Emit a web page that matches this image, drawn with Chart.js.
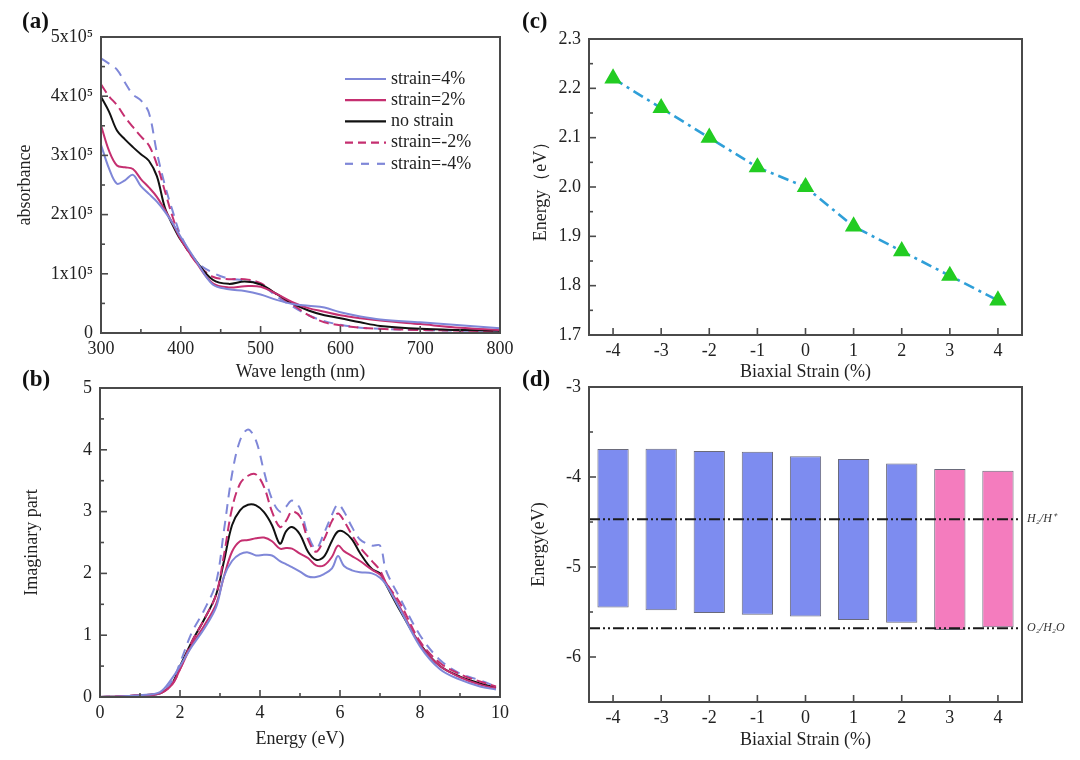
<!DOCTYPE html>
<html>
<head>
<meta charset="utf-8">
<script src="https://cdn.jsdelivr.net/npm/chart.js@4.4.1/dist/chart.umd.min.js"></script>
<style>
  html, body { margin: 0; padding: 0; background: #ffffff; }
  body { width: 1080px; height: 760px; position: relative; overflow: hidden; }
  canvas { position: absolute; }
  .plab { position: absolute; font-family: "Liberation Serif", serif; font-weight: bold; font-size: 23px; color: #111; }
</style>
</head>
<body>
<canvas id="ca" width="540" height="390" style="left:0;top:0"></canvas>
<canvas id="cb" width="540" height="400" style="left:0;top:360px"></canvas>
<canvas id="cc" width="560" height="390" style="left:520px;top:0"></canvas>
<canvas id="cd" width="560" height="400" style="left:520px;top:360px"></canvas>
<div class="plab" style="left:22px;top:8px">(a)</div>
<div class="plab" style="left:22px;top:366px">(b)</div>
<div class="plab" style="left:522px;top:8px">(c)</div>
<div class="plab" style="left:522px;top:366px">(d)</div>
<script>
// ---------- Panel (a): absorbance vs wavelength (values in units of 1e5) ----------
const aWavelength = [300,310,320,330,340,350,360,370,380,390,400,420,440,460,480,500,520,540,560,580,600,625,650,700,750,800];
const aStrain4  = [3.18,2.78,2.52,2.58,2.67,2.48,2.35,2.22,2.05,1.85,1.62,1.20,0.82,0.74,0.71,0.65,0.56,0.49,0.46,0.43,0.35,0.28,0.23,0.18,0.13,0.08];
const aStrain2  = [3.51,3.08,2.83,2.80,2.77,2.60,2.46,2.30,2.08,1.85,1.58,1.18,0.84,0.77,0.79,0.78,0.66,0.52,0.42,0.36,0.30,0.25,0.21,0.15,0.09,0.05];
const aNoStrain = [3.99,3.74,3.42,3.27,3.14,3.02,2.91,2.65,2.12,1.82,1.57,1.20,0.90,0.83,0.87,0.82,0.66,0.50,0.38,0.30,0.25,0.18,0.12,0.07,0.05,0.04];
const aStrainM2 = [4.20,4.00,3.85,3.65,3.48,3.32,3.17,2.85,2.40,1.95,1.60,1.18,0.95,0.91,0.91,0.84,0.65,0.48,0.30,0.18,0.13,0.09,0.07,0.05,0.04,0.03];
const aStrainM4 = [4.64,4.55,4.45,4.23,4.03,3.93,3.72,3.05,2.50,2.05,1.65,1.20,1.02,0.92,0.89,0.82,0.62,0.45,0.30,0.20,0.14,0.09,0.07,0.05,0.04,0.04];
const aXTicks = [300,400,500,600,700,800];
const aXTickLabels = ['300','400','500','600','700','800'];
const aYTicks = [0,1,2,3,4,5];
const aYTickLabels = ['0','1x10\u2075','2x10\u2075','3x10\u2075','4x10\u2075','5x10\u2075'];

// ---------- Panel (b): imaginary part vs energy ----------
const bEnergy    = [0,0.5,1,1.5,1.8,2.0,2.3,2.6,2.9,3.1,3.3,3.5,3.7,3.9,4.1,4.3,4.5,4.65,4.8,5.0,5.2,5.4,5.6,5.8,5.95,6.1,6.3,6.5,6.8,7.0,7.15,7.5,8.0,8.5,9.0,9.5,9.9];
const bStrain4   = [0,0.01,0.03,0.08,0.30,0.50,0.82,1.10,1.45,1.95,2.20,2.31,2.34,2.29,2.30,2.29,2.20,2.15,2.10,2.03,1.95,1.94,1.99,2.08,2.28,2.12,2.05,2.02,2.00,1.93,1.82,1.42,0.82,0.45,0.28,0.17,0.12];
const bStrain2   = [0,0.01,0.03,0.06,0.20,0.45,0.85,1.15,1.50,1.95,2.35,2.52,2.54,2.57,2.58,2.52,2.40,2.41,2.40,2.32,2.25,2.13,2.13,2.27,2.45,2.36,2.28,2.20,2.06,1.98,1.85,1.45,0.85,0.50,0.32,0.20,0.14];
const bNoStrain  = [0,0.01,0.03,0.06,0.22,0.50,0.90,1.25,1.65,2.20,2.78,3.02,3.11,3.10,2.99,2.78,2.48,2.68,2.75,2.63,2.35,2.22,2.27,2.53,2.68,2.67,2.55,2.33,2.07,2.00,1.82,1.40,0.86,0.50,0.33,0.22,0.15];
const bStrainM2  = [0,0.01,0.03,0.06,0.20,0.45,0.90,1.25,1.65,2.30,3.05,3.45,3.58,3.60,3.40,3.00,2.75,2.85,3.00,2.92,2.55,2.35,2.55,2.85,2.97,2.85,2.62,2.42,2.20,2.05,1.85,1.52,0.90,0.55,0.37,0.25,0.17];
const bStrainM4  = [0,0.01,0.03,0.06,0.25,0.55,1.05,1.40,1.85,2.70,3.60,4.15,4.33,4.15,3.65,3.20,3.00,3.08,3.18,3.05,2.62,2.40,2.65,2.95,3.12,3.00,2.75,2.55,2.45,2.45,2.05,1.60,1.00,0.60,0.38,0.27,0.17];
const bXTicks = [0,2,4,6,8,10];
const bXTickLabels = ['0','2','4','6','8','10'];
const bYTicks = [0,1,2,3,4,5];
const bYTickLabels = ['0','1','2','3','4','5'];

// ---------- Panel (c): band gap vs biaxial strain ----------
const strainCategories = ['-4','-3','-2','-1','0','1','2','3','4'];
const cBandGap = [2.22,2.16,2.10,2.04,2.00,1.92,1.87,1.82,1.77];
const cYTicks = [1.7,1.8,1.9,2.0,2.1,2.2,2.3];
const cYTickLabels = ['1.7','1.8','1.9','2.0','2.1','2.2','2.3'];

// ---------- Panel (d): band edges vs biaxial strain ----------
const dCBM = [-3.69,-3.685,-3.71,-3.72,-3.77,-3.80,-3.85,-3.91,-3.93];
const dVBM = [-5.45,-5.48,-5.51,-5.53,-5.55,-5.59,-5.62,-5.70,-5.67];
const dYTicks = [-6,-5,-4,-3];
const dYTickLabels = ['-6','-5','-4','-3'];
const refLevels = [-4.47, -5.68];
const refLabels = ['H\u2082/H\u207A', 'O\u2082/H\u2082O'];

// ---------- styling ----------
const FONT = "'Liberation Serif', 'Times New Roman', serif";
const TXT = '#222';
const BLUE = '#7f87d8';
const MAG = '#c52f70';

const frameTicks = {
  id: 'frameTicks',
  afterDraw(chart, args, o) {
    const ctx = chart.ctx, a = chart.chartArea;
    const xs = chart.scales.x, ys = chart.scales.y;
    ctx.save();
    ctx.strokeStyle = '#4a4a4a';
    ctx.lineWidth = 1.6;
    const xp = xs.ticks.map((t, i) => xs.getPixelForTick(i));
    const yp = ys.ticks.map((t, i) => ys.getPixelForTick(i));
    const MAJ = 7, MIN = 4;
    const tx = (p, l) => { ctx.beginPath(); ctx.moveTo(p, a.bottom); ctx.lineTo(p, a.bottom - l); ctx.stroke(); };
    const ty = (p, l) => { ctx.beginPath(); ctx.moveTo(a.left, p); ctx.lineTo(a.left + l, p); ctx.stroke(); };
    xp.forEach(p => tx(p, MAJ));
    yp.forEach(p => ty(p, MAJ));
    if (o.minorX) for (let i = 0; i < xp.length - 1; i++) tx((xp[i] + xp[i + 1]) / 2, MIN);
    if (o.minorY) for (let i = 0; i < yp.length - 1; i++) ty((yp[i] + yp[i + 1]) / 2, MIN);
    ctx.lineWidth = 2;
    ctx.strokeRect(a.left, a.top, a.right - a.left, a.bottom - a.top);
    ctx.restore();
  }
};

const lineLegend = {
  id: 'lineLegend',
  afterDraw(chart, args, o) {
    if (!o.show) return;
    const ctx = chart.ctx;
    ctx.save();
    ctx.font = '18px ' + FONT;
    ctx.textBaseline = 'middle';
    ctx.fillStyle = TXT;
    chart.data.datasets.forEach((ds, i) => {
      const y = o.y0 + i * o.dy;
      ctx.strokeStyle = ds.borderColor;
      ctx.lineWidth = 2.2;
      ctx.setLineDash(ds.legendDash || []);
      ctx.beginPath(); ctx.moveTo(o.x0, y); ctx.lineTo(o.x1, y); ctx.stroke();
      ctx.setLineDash([]);
      ctx.fillText(ds.label, o.tx, y);
    });
    ctx.restore();
  }
};

const refLines = {
  id: 'refLines',
  afterDatasetsDraw(chart, args, o) {
    if (!o.levels) return;
    const ctx = chart.ctx, a = chart.chartArea, ys = chart.scales.y;
    ctx.save();
    ctx.strokeStyle = '#1a1a1a';
    ctx.lineWidth = 2;
    ctx.setLineDash([11, 3, 2, 3, 2, 3]);
    ctx.font = 'italic 12px ' + FONT;
    ctx.fillStyle = '#333';
    ctx.textBaseline = 'middle';
    o.levels.forEach((v, i) => {
      const y = ys.getPixelForValue(v);
      ctx.beginPath(); ctx.moveTo(a.left, y); ctx.lineTo(a.right, y); ctx.stroke();
      ctx.fillText(o.labels[i], a.right + 5, y);
    });
    ctx.restore();
  }
};

Chart.register(frameTicks, lineLegend, refLines);

function linAxis(min, max, ticks, labels, fitSize, horiz, title, tpad) {
  return {
    type: 'linear', min: min, max: max,
    afterBuildTicks: s => { s.ticks = ticks.map(v => ({ value: v })); },
    afterFit: s => { if (horiz) s.height = fitSize; else s.width = fitSize; },
    grid: { display: false, drawTicks: false },
    border: { display: false },
    ticks: { autoSkip: false, maxRotation: 0, padding: horiz ? 5 : 8, color: TXT,
             font: { family: FONT, size: 18 }, callback: (v, i) => labels[i] },
    title: { display: true, text: title, color: TXT, font: { family: FONT, size: 18 }, padding: tpad }
  };
}
function catAxis(fitSize, title, tpad, fs) {
  return {
    type: 'category', offset: true,
    afterFit: s => { s.height = fitSize; },
    grid: { display: false, drawTicks: false },
    border: { display: false },
    ticks: { autoSkip: false, maxRotation: 0, padding: 5, color: TXT, font: { family: FONT, size: 18 } },
    title: { display: true, text: title, color: TXT, font: { family: FONT, size: fs }, padding: tpad }
  };
}
function pts(xs, ys) { return xs.map((x, i) => ({ x: x, y: ys[i] })); }
function curve(label, xs, ys, color, dash, legendDash) {
  return { label: label, data: pts(xs, ys), borderColor: color, backgroundColor: color,
           borderWidth: 2, borderDash: dash, legendDash: legendDash, pointRadius: 0, tension: 0.35, fill: false };
}
const baseOpts = { responsive: false, animation: false, devicePixelRatio: 1,
                   plugins: { legend: { display: false }, tooltip: { enabled: false } } };

// (a)
new Chart(document.getElementById('ca'), {
  type: 'line',
  data: { datasets: [
    curve('strain=4%', aWavelength, aStrain4, BLUE, [], []),
    curve('strain=2%', aWavelength, aStrain2, MAG, [], []),
    curve('no strain', aWavelength, aNoStrain, '#111111', [], []),
    curve('strain=-2%', aWavelength, aStrainM2, MAG, [10, 5], [8, 5]),
    curve('strain=-4%', aWavelength, aStrainM4, BLUE, [10, 7], [8, 8])
  ]},
  options: Object.assign({}, baseOpts, {
    layout: { padding: { top: 37, right: 40, left: 0, bottom: 0 } },
    scales: {
      x: linAxis(300, 800, aXTicks, aXTickLabels, 57, true, 'Wave length (nm)', { top: 0, bottom: 7 }),
      y: linAxis(0, 5, aYTicks, aYTickLabels, 101, false, 'absorbance', { top: 14, bottom: 0 })
    },
    plugins: Object.assign({}, baseOpts.plugins, {
      frameTicks: { minorX: true, minorY: true },
      lineLegend: { show: true, x0: 345, x1: 386, tx: 391, y0: 79, dy: 21.2 }
    })
  })
});

// (b)
new Chart(document.getElementById('cb'), {
  type: 'line',
  data: { datasets: [
    curve('strain=4%', bEnergy, bStrain4, BLUE, [], []),
    curve('strain=2%', bEnergy, bStrain2, MAG, [], []),
    curve('strain=-2%', bEnergy, bStrainM2, MAG, [10, 5], []),
    curve('strain=-4%', bEnergy, bStrainM4, BLUE, [10, 7], []),
    curve('no strain', bEnergy, bNoStrain, '#111111', [], [])
  ]},
  options: Object.assign({}, baseOpts, {
    layout: { padding: { top: 28, right: 40, left: 0, bottom: 0 } },
    scales: {
      x: linAxis(0, 10, bXTicks, bXTickLabels, 63, true, 'Energy (eV)', { top: 0, bottom: 10 }),
      y: linAxis(0, 5, bYTicks, bYTickLabels, 100, false, 'Imaginary part', { top: 21, bottom: 0 })
    },
    plugins: Object.assign({}, baseOpts.plugins, { frameTicks: { minorX: true, minorY: true } })
  })
});

// (c)
new Chart(document.getElementById('cc'), {
  type: 'line',
  data: { labels: strainCategories, datasets: [{
    label: 'Band gap', data: cBandGap,
    borderColor: '#2f9fd8', borderWidth: 2.6, borderDash: [11, 5, 3, 5],
    pointStyle: 'triangle', pointRadius: 7.5, pointBackgroundColor: '#22cc22', pointBorderColor: '#22cc22',
    tension: 0, fill: false
  }]},
  options: Object.assign({}, baseOpts, {
    layout: { padding: { top: 39, right: 58, left: 0, bottom: 0 } },
    scales: {
      x: catAxis(55, 'Biaxial Strain (%)', { top: 0, bottom: 7 }, 18),
      y: linAxis(1.7, 2.3, cYTicks, cYTickLabels, 69, false, 'Energy\uFF08eV\uFF09', { top: 10, bottom: 0 })
    },
    plugins: Object.assign({}, baseOpts.plugins, { frameTicks: { minorX: false, minorY: true } })
  })
});

// (d)
new Chart(document.getElementById('cd'), {
  type: 'bar',
  data: { labels: strainCategories, datasets: [{
    label: 'Band edges', data: dCBM.map((c, i) => [dVBM[i], c]),
    backgroundColor: ['#7d8cf0','#7d8cf0','#7d8cf0','#7d8cf0','#7d8cf0','#7d8cf0','#7d8cf0','#f47cbe','#f47cbe'],
    borderColor: '#6a6a7a', borderWidth: 1, borderSkipped: false,
    categoryPercentage: 1, barPercentage: 0.65
  }]},
  options: Object.assign({}, baseOpts, {
    layout: { padding: { top: 27, right: 58, left: 0, bottom: 0 } },
    scales: {
      x: catAxis(58, 'Biaxial Strain (%)', { top: 0, bottom: 9 }, 18),
      y: linAxis(-6.5, -3, dYTicks, dYTickLabels, 69, false, 'Energy(eV)', { top: 8, bottom: 0 })
    },
    plugins: Object.assign({}, baseOpts.plugins, {
      frameTicks: { minorX: false, minorY: true },
      refLines: { levels: refLevels, labels: refLabels }
    })
  })
});
</script>
</body>
</html>
